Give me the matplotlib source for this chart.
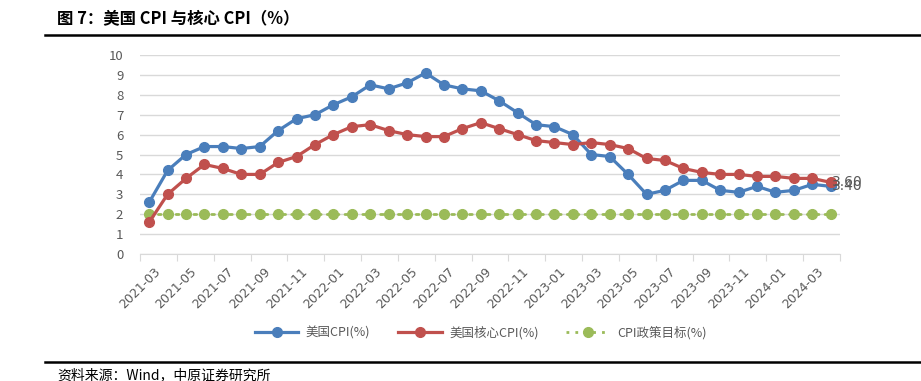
import numpy as np
import matplotlib
matplotlib.use("Agg")
import matplotlib.pyplot as plt
from matplotlib.lines import Line2D

plt.rcParams['font.family'] = ['Noto Sans CJK SC', 'DejaVu Sans']

start_year, start_month, n_months = 2021, 3, 38
months = []
y, m = start_year, start_month
for i in range(n_months):
    months.append("%d-%02d" % (y, m))
    m += 1
    if m > 12:
        m = 1
        y += 1

cpi = [2.6, 4.2, 5.0, 5.4, 5.4, 5.3, 5.4, 6.2, 6.8, 7.0,
       7.5, 7.9, 8.5, 8.3, 8.6, 9.1, 8.5, 8.3, 8.2, 7.7, 7.1, 6.5,
       6.4, 6.0, 5.0, 4.9, 4.0, 3.0, 3.2, 3.7, 3.7, 3.2, 3.1, 3.4,
       3.1, 3.2, 3.5, 3.4]
core_cpi = [1.6, 3.0, 3.8, 4.5, 4.3, 4.0, 4.0, 4.6, 4.9, 5.5,
            6.0, 6.4, 6.5, 6.2, 6.0, 5.9, 5.9, 6.3, 6.6, 6.3, 6.0, 5.7,
            5.6, 5.5, 5.6, 5.5, 5.3, 4.8, 4.7, 4.3, 4.1, 4.0, 4.0, 3.9,
            3.9, 3.8, 3.8, 3.6]
target = [2.0] * n_months

labels = ["美国CPI(%)", "美国核心CPI(%)", "CPI政策目标(%)"]
blue, red, green = "#4a7ebb", "#c0504d", "#9bbb59"

fig = plt.figure(figsize=(9.21, 3.81), dpi=100)
ax = fig.add_axes([0.152, 0.3333, 0.760, 0.5223])
x = np.arange(n_months)

ax.plot(x, cpi, color=blue, lw=2.3, marker='o', ms=7, label=labels[0], zorder=3)
ax.plot(x, core_cpi, color=red, lw=2.3, marker='o', ms=7, label=labels[1], zorder=3)
ax.plot(x, target, color=green, lw=2.0, ls=(0, (1, 2.2)), dash_capstyle='round',
        marker='o', ms=7, label=labels[2], zorder=2)

# end-of-series value labels (they overlap in the original too)
ax.text(x[-1] + 0.05, core_cpi[-1], "%.2f" % core_cpi[-1], color="#595959",
        fontsize=10, va='center', ha='left', family='DejaVu Sans')
ax.text(x[-1] + 0.05, cpi[-1], "%.2f" % cpi[-1], color="#595959",
        fontsize=10, va='center', ha='left', family='DejaVu Sans')

ax.set_xlim(-0.5, n_months - 0.5)
ax.set_ylim(0, 10)
ax.set_yticks(range(0, 11))
ax.yaxis.grid(True, color="#d9d9d9", lw=1)
ax.set_axisbelow(True)
for s in ['top', 'right', 'left']:
    ax.spines[s].set_visible(False)
ax.spines['bottom'].set_color("#d9d9d9")
ax.tick_params(axis='y', length=0, labelsize=9.5, labelcolor="#595959", pad=12)

ax.set_xticks(np.arange(-0.5, n_months, 2))
ax.set_xticklabels([])
ax.tick_params(axis='x', length=5, color="#d9d9d9")
for i in range(0, n_months, 2):
    ax.annotate(months[i], xy=(i, 0), xycoords=('data', 'axes fraction'),
                xytext=(3, -8), textcoords='offset points', rotation=45,
                rotation_mode='anchor', ha='right', va='top', fontsize=9,
                color="#595959", family='DejaVu Sans')

handles = [Line2D([], [], color=blue, lw=2.3, marker='o', ms=7),
           Line2D([], [], color=red, lw=2.3, marker='o', ms=7),
           Line2D([], [], color=green, lw=2.0, ls=(0, (1, 2.2)), marker='o', ms=7)]
fig.legend(handles, labels, loc='center', bbox_to_anchor=(0.522, 0.126), ncol=3,
           frameon=False, fontsize=9, handlelength=3.5, columnspacing=2.2,
           handletextpad=0.6, labelcolor="#595959")

fig.text(0.062, 0.953, "图 7：美国 CPI 与核心 CPI（%）", fontsize=11.8,
         fontweight='bold', va='center', ha='left')
fig.add_artist(Line2D([0.049, 1.0], [0.908, 0.908], color='black', lw=1.8))
fig.add_artist(Line2D([0.049, 1.0], [0.050, 0.050], color='black', lw=1.8))
fig.text(0.062, 0.016, "资料来源：Wind，中原证券研究所", fontsize=10, va='center', ha='left')

fig.savefig("out.png", dpi=100)
